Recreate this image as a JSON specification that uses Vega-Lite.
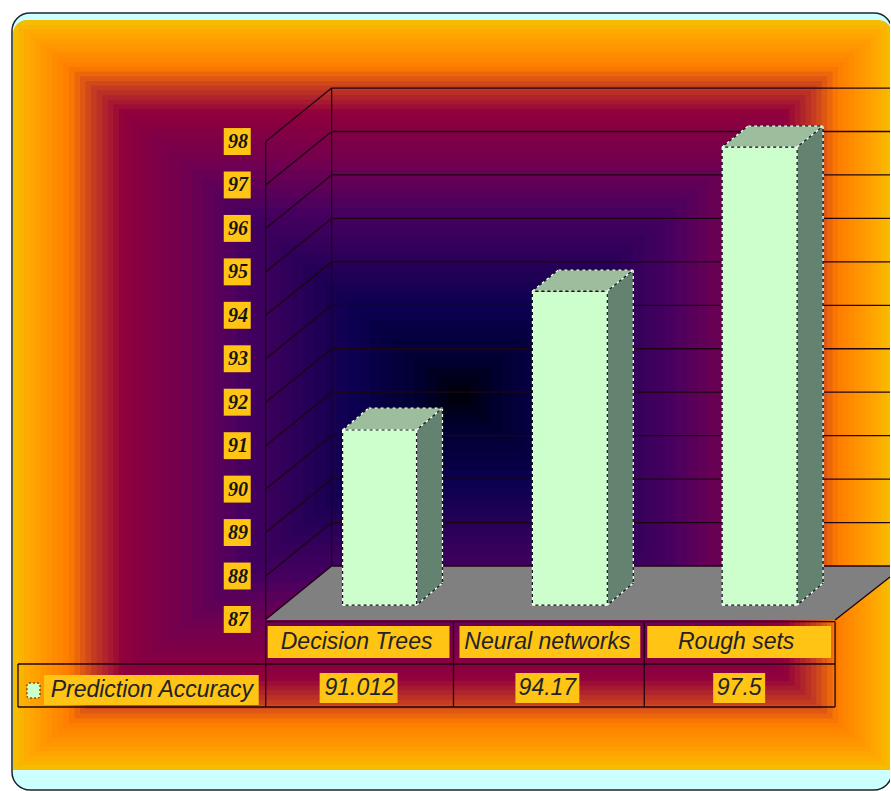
{"$schema":"https://vega.github.io/schema/vega-lite/v6.json","width":891,"height":791,"padding":0,"autosize":{"type":"fit","contains":"padding"},"background":"#ffffff","view":{"stroke":null},
"encoding":{"x":{"field":"x","type":"quantitative","axis":null,"scale":{"domain":[0,891]}},"y":{"field":"y","type":"quantitative","scale":{"domain":[83.052,101.257]},"axis":{"title":null,"values":[87,88,89,90,91,92,93,94,95,96,97,98],"format":"d","domain":false,"ticks":false,"grid":false,"orient":"left","offset":-237.5,"labelPadding":0,"labelAlign":"center","labelFont":"Liberation Serif","labelFontWeight":"bold","labelFontStyle":"italic","labelFontSize":20,"labelColor":"#141414","zindex":1}}},
"datasets":{
"bands":[{"t":0.0125,"x":18.6,"x2":887.6,"y":100.688,"y2":83.643},{"t":0.025,"x":24.2,"x2":882.2,"y":100.58,"y2":83.751},{"t":0.0375,"x":29.8,"x2":876.8,"y":100.472,"y2":83.859},{"t":0.05,"x":35.4,"x2":871.4,"y":100.364,"y2":83.967},{"t":0.0625,"x":40.9,"x2":865.9,"y":100.256,"y2":84.075},{"t":0.075,"x":46.5,"x2":860.5,"y":100.149,"y2":84.182},{"t":0.0875,"x":52.1,"x2":855.1,"y":100.041,"y2":84.29},{"t":0.1,"x":57.7,"x2":849.7,"y":99.933,"y2":84.398},{"t":0.1125,"x":63.3,"x2":844.3,"y":99.825,"y2":84.506},{"t":0.125,"x":68.9,"x2":838.9,"y":99.717,"y2":84.614},{"t":0.1375,"x":74.5,"x2":833.5,"y":99.609,"y2":84.722},{"t":0.15,"x":80.1,"x2":828.1,"y":99.501,"y2":84.83},{"t":0.1625,"x":85.6,"x2":822.6,"y":99.393,"y2":84.938},{"t":0.175,"x":91.2,"x2":817.2,"y":99.286,"y2":85.045},{"t":0.1875,"x":96.8,"x2":811.8,"y":99.178,"y2":85.153},{"t":0.2,"x":102.4,"x2":806.4,"y":99.07,"y2":85.261},{"t":0.2125,"x":108,"x2":801,"y":98.962,"y2":85.369},{"t":0.225,"x":113.6,"x2":795.6,"y":98.854,"y2":85.477},{"t":0.2375,"x":119.2,"x2":790.2,"y":98.746,"y2":85.585},{"t":0.25,"x":124.8,"x2":784.8,"y":98.638,"y2":85.693},{"t":0.2625,"x":130.3,"x2":779.3,"y":98.53,"y2":85.801},{"t":0.275,"x":135.9,"x2":773.9,"y":98.422,"y2":85.909},{"t":0.2875,"x":141.5,"x2":768.5,"y":98.315,"y2":86.016},{"t":0.3,"x":147.1,"x2":763.1,"y":98.207,"y2":86.124},{"t":0.3125,"x":152.7,"x2":757.7,"y":98.099,"y2":86.232},{"t":0.325,"x":158.3,"x2":752.3,"y":97.991,"y2":86.34},{"t":0.3375,"x":163.9,"x2":746.9,"y":97.883,"y2":86.448},{"t":0.35,"x":169.5,"x2":741.5,"y":97.775,"y2":86.556},{"t":0.375,"x":180.6,"x2":730.6,"y":97.559,"y2":86.772},{"t":0.4,"x":191.8,"x2":719.8,"y":97.344,"y2":86.987},{"t":0.425,"x":203,"x2":709,"y":97.128,"y2":87.203},{"t":0.45,"x":214.2,"x2":698.2,"y":96.912,"y2":87.419},{"t":0.475,"x":225.3,"x2":687.3,"y":96.696,"y2":87.635},{"t":0.5,"x":236.5,"x2":676.5,"y":96.481,"y2":87.851},{"t":0.525,"x":247.7,"x2":665.7,"y":96.265,"y2":88.066},{"t":0.55,"x":258.9,"x2":654.9,"y":96.049,"y2":88.282},{"t":0.575,"x":270,"x2":644,"y":95.833,"y2":88.498},{"t":0.6,"x":281.2,"x2":633.2,"y":95.617,"y2":88.714},{"t":0.625,"x":292.4,"x2":622.4,"y":95.402,"y2":88.929},{"t":0.65,"x":303.6,"x2":611.6,"y":95.186,"y2":89.145},{"t":0.675,"x":314.7,"x2":600.7,"y":94.97,"y2":89.361},{"t":0.7,"x":325.9,"x2":589.9,"y":94.754,"y2":89.577},{"t":0.725,"x":337.1,"x2":579.1,"y":94.539,"y2":89.792},{"t":0.75,"x":348.3,"x2":568.3,"y":94.323,"y2":90.008},{"t":0.775,"x":359.4,"x2":557.4,"y":94.107,"y2":90.224},{"t":0.8,"x":370.6,"x2":546.6,"y":93.891,"y2":90.44},{"t":0.825,"x":381.8,"x2":535.8,"y":93.675,"y2":90.656},{"t":0.85,"x":393,"x2":525,"y":93.46,"y2":90.871},{"t":0.875,"x":404.1,"x2":514.1,"y":93.244,"y2":91.087},{"t":0.9,"x":415.3,"x2":503.3,"y":93.028,"y2":91.303},{"t":0.925,"x":426.5,"x2":492.5,"y":92.812,"y2":91.519},{"t":0.95,"x":437.7,"x2":481.7,"y":92.597,"y2":91.734},{"t":0.975,"x":448.8,"x2":470.8,"y":92.381,"y2":91.95}],
"grid":[{"x":266,"x2":332,"y":87,"y2":88.23},{"x":266,"x2":332,"y":88,"y2":89.23},{"x":266,"x2":332,"y":89,"y2":90.23},{"x":266,"x2":332,"y":90,"y2":91.23},{"x":266,"x2":332,"y":91,"y2":92.23},{"x":266,"x2":332,"y":92,"y2":93.23},{"x":266,"x2":332,"y":93,"y2":94.23},{"x":266,"x2":332,"y":94,"y2":95.23},{"x":266,"x2":332,"y":95,"y2":96.23},{"x":266,"x2":332,"y":96,"y2":97.23},{"x":266,"x2":332,"y":97,"y2":98.23},{"x":266,"x2":332,"y":98,"y2":99.23},
{"x":332,"x2":891,"y":88.23,"y2":88.23},{"x":332,"x2":891,"y":89.23,"y2":89.23},{"x":332,"x2":891,"y":90.23,"y2":90.23},{"x":332,"x2":891,"y":91.23,"y2":91.23},{"x":332,"x2":891,"y":92.23,"y2":92.23},{"x":332,"x2":891,"y":93.23,"y2":93.23},{"x":332,"x2":891,"y":94.23,"y2":94.23},{"x":332,"x2":891,"y":95.23,"y2":95.23},{"x":332,"x2":891,"y":96.23,"y2":96.23},{"x":332,"x2":891,"y":97.23,"y2":97.23},{"x":332,"x2":891,"y":98.23,"y2":98.23},{"x":332,"x2":891,"y":99.23,"y2":99.23},
{"x":266,"x2":266,"y":98,"y2":86.988},{"x":332,"x2":332,"y":99.23,"y2":88.23},{"x":836,"x2":891,"y":86.988,"y2":87.977},{"x":266,"x2":836,"y":86.95,"y2":86.95}],
"table":[{"x":266,"x2":266,"y":86.95,"y2":84.985},{"x":454,"x2":454,"y":86.95,"y2":84.985},{"x":645,"x2":645,"y":86.95,"y2":84.985},{"x":836,"x2":836,"y":86.95,"y2":84.985},{"x":18,"x2":18,"y":85.975,"y2":84.985},{"x":18,"x2":836,"y":85.975,"y2":85.975},{"x":18,"x2":836,"y":84.985,"y2":84.985}],
"floor":[{"x":266,"y":86.988,"y2":86.988},{"x":332,"y":86.988,"y2":88.23},{"x":836,"y":86.988,"y2":88.23},{"x":891,"y":87.977,"y2":88.23}],
"bars":[{"category":"Decision Trees","value":91.012,"x":343,"x2":417},{"category":"Neural networks","value":94.17,"x":533,"x2":608},{"category":"Rough sets","value":97.5,"x":723,"x2":798}],
"tops":[{"bar":"a","x":343,"y":91.36,"y2":91.36},{"bar":"a","x":369,"y":91.36,"y2":91.867},{"bar":"a","x":417,"y":91.36,"y2":91.867},{"bar":"a","x":443,"y":91.867,"y2":91.867},{"bar":"b","x":533,"y":94.559,"y2":94.559},{"bar":"b","x":559,"y":94.559,"y2":95.043},{"bar":"b","x":608,"y":94.559,"y2":95.043},{"bar":"b","x":634,"y":95.043,"y2":95.043},{"bar":"c","x":723,"y":97.873,"y2":97.873},{"bar":"c","x":749,"y":97.873,"y2":98.357},{"bar":"c","x":798,"y":97.873,"y2":98.357},{"bar":"c","x":824,"y":98.357,"y2":98.357}],
"sides":[{"bar":"a","x":417,"y":87.33,"y2":91.36},{"bar":"a","x":443,"y":87.839,"y2":91.867},{"bar":"b","x":608,"y":87.33,"y2":94.559},{"bar":"b","x":634,"y":87.839,"y2":95.043},{"bar":"c","x":798,"y":87.33,"y2":97.873},{"bar":"c","x":824,"y":87.839,"y2":98.357}],
"edges":[{"x":343,"x2":417,"y":91.36,"y2":91.36},{"x":343,"x2":417,"y":87.33,"y2":87.33},{"x":343,"x2":343,"y":91.36,"y2":87.33},{"x":417,"x2":417,"y":91.36,"y2":87.33},{"x":343,"x2":369,"y":91.36,"y2":91.867},{"x":369,"x2":443,"y":91.867,"y2":91.867},{"x":417,"x2":443,"y":91.36,"y2":91.867},{"x":443,"x2":443,"y":91.867,"y2":87.839},{"x":417,"x2":443,"y":87.33,"y2":87.839},
{"x":533,"x2":608,"y":94.559,"y2":94.559},{"x":533,"x2":608,"y":87.33,"y2":87.33},{"x":533,"x2":533,"y":94.559,"y2":87.33},{"x":608,"x2":608,"y":94.559,"y2":87.33},{"x":533,"x2":559,"y":94.559,"y2":95.043},{"x":559,"x2":634,"y":95.043,"y2":95.043},{"x":608,"x2":634,"y":94.559,"y2":95.043},{"x":634,"x2":634,"y":95.043,"y2":87.839},{"x":608,"x2":634,"y":87.33,"y2":87.839},
{"x":723,"x2":798,"y":97.873,"y2":97.873},{"x":723,"x2":798,"y":87.33,"y2":87.33},{"x":723,"x2":723,"y":97.873,"y2":87.33},{"x":798,"x2":798,"y":97.873,"y2":87.33},{"x":723,"x2":749,"y":97.873,"y2":98.357},{"x":749,"x2":824,"y":98.357,"y2":98.357},{"x":798,"x2":824,"y":97.873,"y2":98.357},{"x":824,"x2":824,"y":98.357,"y2":87.839},{"x":798,"x2":824,"y":87.33,"y2":87.839}],
"boxes":[{"x":224,"x2":251,"y":87.31,"y2":86.69},{"x":224,"x2":251,"y":88.31,"y2":87.69},{"x":224,"x2":251,"y":89.31,"y2":88.69},{"x":224,"x2":251,"y":90.31,"y2":89.69},{"x":224,"x2":251,"y":91.31,"y2":90.69},{"x":224,"x2":251,"y":92.31,"y2":91.69},{"x":224,"x2":251,"y":93.31,"y2":92.69},{"x":224,"x2":251,"y":94.31,"y2":93.69},{"x":224,"x2":251,"y":95.31,"y2":94.69},{"x":224,"x2":251,"y":96.31,"y2":95.69},{"x":224,"x2":251,"y":97.31,"y2":96.69},{"x":224,"x2":251,"y":98.31,"y2":97.69},
{"x":268,"x2":450,"y":86.849,"y2":86.113},{"x":460,"x2":641,"y":86.849,"y2":86.113},{"x":648,"x2":832,"y":86.849,"y2":86.113},{"x":320,"x2":398,"y":85.767,"y2":85.077},{"x":516,"x2":580,"y":85.767,"y2":85.077},{"x":714,"x2":766,"y":85.767,"y2":85.077},{"x":44,"x2":259,"y":85.722,"y2":85.031}],
"labels":[{"label":"Decision Trees","x":357,"y":86.481},{"label":"Neural networks","x":548,"y":86.481},{"label":"Rough sets","x":737,"y":86.481},{"label":"91.012","x":360,"y":85.423},{"label":"94.17","x":548,"y":85.423},{"label":"97.5","x":740,"y":85.423},{"label":"Prediction  Accuracy","x":152,"y":85.376}]
},
"layer":[
{"data":{"values":[{"x":12,"x2":893,"y":100.957,"y2":83.075}]},"mark":{"type":"rect","clip":true,"fill":"#ccffff","stroke":"#1c2428","strokeWidth":1.5,"cornerRadius":18},"encoding":{"x2":{"field":"x2"},"y2":{"field":"y2"}}},
{"data":{"values":[{"x":13,"x2":893,"y":100.796,"y2":83.535}]},"mark":{"type":"rect","clip":true,"fill":"#f5bc00","cornerRadiusTopLeft":14,"cornerRadiusTopRight":14},"encoding":{"x2":{"field":"x2"},"y2":{"field":"y2"}}},
{"data":{"name":"bands"},"mark":{"type":"rect"},"encoding":{"x2":{"field":"x2"},"y2":{"field":"y2"},"color":{"field":"t","type":"quantitative","legend":null,"scale":{"domain":[0,0.03,0.12,0.17,0.24,0.37,0.5,0.75,0.9,1],"range":["#f5bc00","#ffa800","#ff7c00","#c84020","#90003c","#720050","#480060","#0c0050","#000030","#000000"],"interpolate":"rgb"}}}},
{"data":{"name":"floor"},"mark":{"type":"area","fill":"#808080"},"encoding":{"y2":{"field":"y2"}}},
{"data":{"name":"grid"},"mark":{"type":"rule","stroke":"#1e0412","strokeWidth":1.3},"encoding":{"x2":{"field":"x2"},"y2":{"field":"y2"}}},
{"data":{"name":"sides"},"mark":{"type":"area","fill":"#648270"},"encoding":{"detail":{"field":"bar"},"y2":{"field":"y2"}}},
{"data":{"name":"tops"},"mark":{"type":"area","fill":"#9cbe9c"},"encoding":{"detail":{"field":"bar"},"y2":{"field":"y2"}}},
{"data":{"name":"bars"},"mark":{"type":"rect","fill":"#ccffcc","yOffset":-16,"y2Offset":-14},"encoding":{"x2":{"field":"x2"},"y":{"field":"value","type":"quantitative"},"y2":{"datum":87}}},
{"data":{"name":"edges"},"mark":{"type":"rule","stroke":"#ffffff","strokeWidth":1.2,"strokeDash":[3,3]},"encoding":{"x2":{"field":"x2"},"y2":{"field":"y2"}}},
{"data":{"name":"edges"},"mark":{"type":"rule","stroke":"#10201a","strokeWidth":1.2,"strokeDash":[3,3],"strokeDashOffset":3},"encoding":{"x2":{"field":"x2"},"y2":{"field":"y2"}}},
{"data":{"name":"table"},"mark":{"type":"rule","stroke":"#1e0412","strokeWidth":1.3},"encoding":{"x2":{"field":"x2"},"y2":{"field":"y2"}}},
{"data":{"name":"boxes"},"mark":{"type":"rect","fill":"#ffc414"},"encoding":{"x2":{"field":"x2"},"y2":{"field":"y2"}}},
{"data":{"values":[{"x":27,"x2":40,"y":85.537,"y2":85.192}]},"mark":{"type":"rect","fill":"#ccffcc","stroke":"#202020","strokeWidth":1,"strokeDash":[2,2],"cornerRadius":2},"encoding":{"x2":{"field":"x2"},"y2":{"field":"y2"}}},
{"data":{"name":"labels"},"mark":{"type":"text","font":"Liberation Sans","fontStyle":"italic","fontSize":23,"align":"center","baseline":"middle","fill":"#22222c"},"encoding":{"text":{"field":"label"}}}
]}
